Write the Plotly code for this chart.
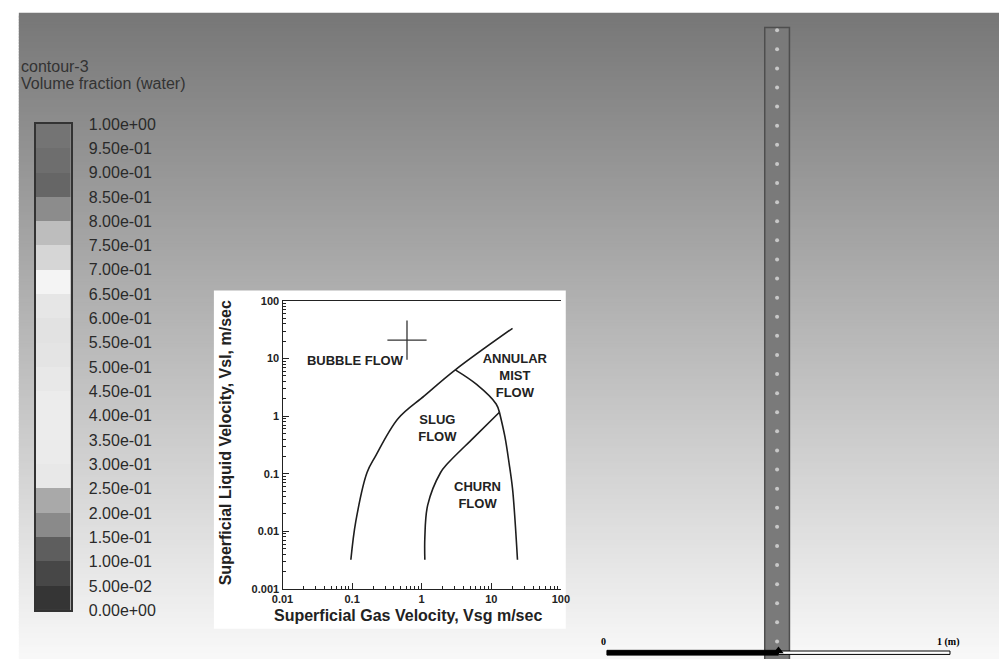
import plotly.graph_objects as go

W, H = 1008, 668

# ---------------- data ----------------
# contour legend (Volume fraction of water), bands from top (1.00) to bottom (0.00)
legend_title = ["contour-3", "Volume fraction (water)"]
legend_ticks = [1.00, 0.95, 0.90, 0.85, 0.80, 0.75, 0.70, 0.65, 0.60, 0.55, 0.50,
                0.45, 0.40, 0.35, 0.30, 0.25, 0.20, 0.15, 0.10, 0.05, 0.00]
legend_ticktext = ["1.00e+00", "9.50e-01", "9.00e-01", "8.50e-01", "8.00e-01",
                   "7.50e-01", "7.00e-01", "6.50e-01", "6.00e-01", "5.50e-01",
                   "5.00e-01", "4.50e-01", "4.00e-01", "3.50e-01", "3.00e-01",
                   "2.50e-01", "2.00e-01", "1.50e-01", "1.00e-01", "5.00e-02",
                   "0.00e+00"]
band_centers = [0.975, 0.925, 0.875, 0.825, 0.775, 0.725, 0.675, 0.625, 0.575, 0.525,
                0.475, 0.425, 0.375, 0.325, 0.275, 0.225, 0.175, 0.125, 0.075, 0.025]
band_gray = [116, 110, 102, 140, 189, 214, 244, 230, 226, 228,
             232, 236, 236, 235, 232, 169, 138, 94, 71, 53]

# flow regime map (inset), superficial velocities in m/s
bubble_slug_vsg = [0.096, 0.113, 0.164, 0.216, 0.459, 1.09, 3.04, 20.2]
bubble_slug_vsl = [0.0032, 0.0148, 0.105, 0.2, 0.91, 2.25, 6.37, 33.6]
slug_annular_vsg = [3.04, 6.15, 11.75, 13.1]
slug_annular_vsl = [6.37, 3.56, 1.63, 1.17]
annular_churn_vsg = [13.1, 15.7, 18.1, 20.2, 22.0, 23.8]
annular_churn_vsl = [1.17, 0.44, 0.147, 0.055, 0.0148, 0.0032]
slug_churn_vsg = [13.1, 5.5, 2.32, 1.87, 1.22, 1.11, 1.11]
slug_churn_vsl = [1.17, 0.416, 0.147, 0.105, 0.0285, 0.0078, 0.0032]
operating_point = (0.615, 21.0)
region_names = ["BUBBLE FLOW", "ANNULAR<br>MIST<br>FLOW", "SLUG<br>FLOW", "CHURN<br>FLOW"]
region_vsg = [0.110, 21.8, 1.68, 6.35]
region_vsl = [8.8, 4.9, 0.6, 0.041]
x_tickvals = [0.01, 0.1, 1, 10, 100]
x_ticktext = ["0.01", "0.1", "1", "10", "100"]
y_tickvals = [0.001, 0.01, 0.1, 1, 10, 100]
y_ticktext = ["0.001", "0.01", "0.1", "1", "10", "100"]

# pipe geometry (metres)
pipe_x = [0.46, 0.532]
pipe_y = [-0.02, 1.84]
pipe_dot_x = 0.496
pipe_dot_y = [1.832, 1.776, 1.720, 1.664, 1.608, 1.552, 1.496, 1.440, 1.384, 1.328,
              1.272, 1.216, 1.160, 1.104, 1.048, 0.992, 0.936, 0.880, 0.824, 0.768,
              0.712, 0.656, 0.600, 0.544, 0.488, 0.432, 0.376, 0.320, 0.264, 0.208,
              0.152, 0.096, 0.040]
scale_bar = [0.0, 0.5, 1.0]
scale_bar_h = 0.014
scale_labels = ["0", "1 (m)"]


def px(x):
    return x / W


def py(y):
    return 1 - y / H


fig = go.Figure()

# ---------------- background (gradient + inset paper) ----------------
shapes = []
top, bottom = 5, H
step = 3
c_top, c_bot = 119, 249
y = top
while y < bottom:
    t = (y - top) / (bottom - top)
    c = int(round(c_top + (c_bot - c_top) * t))
    shapes.append(dict(type="rect", xref="paper", yref="paper", layer="below",
                       x0=px(8), x1=1, y0=py(min(y + step + 2, bottom)), y1=py(y),
                       line=dict(width=0), fillcolor=f"rgb({c},{c},{c})"))
    y += step
shapes.append(dict(type="rect", xref="paper", yref="paper", layer="below",
                   x0=px(207), x1=px(566), y0=py(637), y1=py(290),
                   line=dict(width=0), fillcolor="white"))

# ---------------- contour legend ----------------
fig.add_trace(go.Heatmap(
    z=[[g] for g in band_gray[::-1]], y=band_centers[::-1], x=[0],
    colorscale=[[0, "rgb(0,0,0)"], [1, "rgb(255,255,255)"]], zmin=0, zmax=255,
    showscale=False, xaxis="x4", yaxis="y4", hoverinfo="skip"))

# ---------------- flow regime map ----------------
line_style = dict(color="#1e1e1e", width=1.6, shape="spline", smoothing=1.0)
for xs, ys in [(bubble_slug_vsg, bubble_slug_vsl), (slug_annular_vsg, slug_annular_vsl),
               (annular_churn_vsg, annular_churn_vsl), (slug_churn_vsg, slug_churn_vsl)]:
    fig.add_trace(go.Scatter(x=xs, y=ys, mode="lines", line=line_style,
                             xaxis="x", yaxis="y", showlegend=False, hoverinfo="skip"))
fig.add_trace(go.Scatter(x=[operating_point[0]], y=[operating_point[1]], mode="markers",
                         marker=dict(symbol="cross-thin", size=28,
                                     line=dict(color="#333", width=1.3)),
                         xaxis="x", yaxis="y", showlegend=False, hoverinfo="skip"))
fig.add_trace(go.Scatter(x=region_vsg, y=region_vsl, mode="text", text=region_names,
                         textfont=dict(family="Liberation Sans", size=13, color="#222",
                                       weight="bold"),
                         xaxis="x", yaxis="y", showlegend=False, hoverinfo="skip"))

# ---------------- pipe and scale bar ----------------
fig.add_trace(go.Scatter(
    x=[pipe_x[0], pipe_x[1], pipe_x[1], pipe_x[0], pipe_x[0]],
    y=[pipe_y[0], pipe_y[0], pipe_y[1], pipe_y[1], pipe_y[0]],
    mode="lines", fill="toself", fillcolor="#7a7a7a",
    line=dict(color="#4e4e4e", width=1.5),
    xaxis="x2", yaxis="y2", showlegend=False, hoverinfo="skip"))
fig.add_trace(go.Scatter(
    x=[pipe_dot_x] * len(pipe_dot_y), y=pipe_dot_y, mode="markers",
    marker=dict(color="#c8c8c8", size=4, line=dict(width=0)),
    xaxis="x2", yaxis="y2", showlegend=False, hoverinfo="skip"))
fig.add_trace(go.Scatter(
    x=[scale_bar[0], scale_bar[1], scale_bar[1], scale_bar[0], scale_bar[0]],
    y=[0, 0, scale_bar_h, scale_bar_h, 0], mode="lines", fill="toself",
    fillcolor="black", line=dict(color="black", width=1),
    xaxis="x2", yaxis="y2", showlegend=False, hoverinfo="skip"))
fig.add_trace(go.Scatter(
    x=[scale_bar[1], scale_bar[2], scale_bar[2], scale_bar[1], scale_bar[1]],
    y=[0.002, 0.002, scale_bar_h - 0.002, scale_bar_h - 0.002, 0.002], mode="lines",
    fill="toself", fillcolor="white", line=dict(color="black", width=1),
    xaxis="x2", yaxis="y2", showlegend=False, hoverinfo="skip"))
fig.add_trace(go.Scatter(
    x=[scale_bar[1]], y=[0.012], mode="markers",
    marker=dict(symbol="triangle-up", size=9, color="black"),
    xaxis="x2", yaxis="y2", showlegend=False, hoverinfo="skip"))
fig.add_trace(go.Scatter(
    x=[scale_bar[0] - 0.01, scale_bar[2] - 0.005], y=[0.036, 0.036], mode="text",
    text=scale_labels, textposition="middle center",
    textfont=dict(family="Liberation Serif", size=10, color="black", weight="bold"),
    xaxis="x2", yaxis="y2", showlegend=False, hoverinfo="skip"))

# ---------------- annotations ----------------
annotations = [
    dict(text=legend_title[0], xref="paper", yref="paper", x=px(8), y=py(60),
         xanchor="left", yanchor="middle", showarrow=False,
         font=dict(family="Liberation Sans", size=16, color="#333")),
    dict(text=legend_title[1], xref="paper", yref="paper", x=px(8), y=py(77),
         xanchor="left", yanchor="middle", showarrow=False,
         font=dict(family="Liberation Sans", size=16, color="#333")),
    dict(text="<b>Superficial Gas Velocity, Vsg m/sec</b>", xref="paper", yref="paper",
         x=px(405), y=py(623), xanchor="center", yanchor="middle", showarrow=False,
         font=dict(family="Liberation Sans", size=16, color="#222")),
    dict(text="<b>Superficial Liquid Velocity, Vsl, m/sec</b>", xref="paper", yref="paper",
         x=px(219), y=py(446), xanchor="center", yanchor="middle", showarrow=False,
         textangle=-90, font=dict(family="Liberation Sans", size=16, color="#222")),
]

tickfont = dict(family="Liberation Sans", size=11, color="#222", weight="bold")
fig.update_layout(
    width=W, height=H, margin=dict(l=0, r=0, t=0, b=0),
    paper_bgcolor="white", plot_bgcolor="rgba(0,0,0,0)",
    shapes=shapes, annotations=annotations, showlegend=False,
    xaxis=dict(type="log", range=[-2, 2], domain=[px(277), px(561)], anchor="y",
               showline=True, linecolor="#222", linewidth=1.3, mirror=True,
               ticks="inside", ticklen=6, tickcolor="#222", tickwidth=1,
               tickvals=x_tickvals, ticktext=x_ticktext, tickfont=tickfont,
               minor=dict(ticks="inside", ticklen=3, tickcolor="#222", dtick="D1"),
               showgrid=False, zeroline=False, fixedrange=True),
    yaxis=dict(type="log", range=[-3, 2], domain=[py(596), py(300.7)], anchor="x",
               showline=True, linecolor="#222", linewidth=1.3,
               ticks="inside", ticklen=6, tickcolor="#222", tickwidth=1,
               tickvals=y_tickvals, ticktext=y_ticktext, tickfont=tickfont,
               minor=dict(ticks="inside", ticklen=3, tickcolor="#222", dtick="D1"),
               showgrid=False, zeroline=False, fixedrange=True),
    xaxis2=dict(range=[-608 / 350, 400 / 350], domain=[0, 1], anchor="y2",
                visible=False, fixedrange=True),
    yaxis2=dict(range=[-4 / 350, 664 / 350], domain=[0, 1], anchor="x2",
                visible=False, fixedrange=True),
    xaxis4=dict(range=[-0.5, 0.5], domain=[px(25), px(61)], anchor="y4",
                showline=True, linecolor="#333", linewidth=1.5, mirror=True,
                showticklabels=False, ticks="", showgrid=False, zeroline=False,
                fixedrange=True),
    yaxis4=dict(range=[0, 1], domain=[py(618), py(119)], anchor="x4", side="right",
                showline=True, linecolor="#333", linewidth=1.5, mirror=True,
                tickvals=legend_ticks, ticktext=legend_ticktext, ticks="",
                ticklabelstandoff=13, showgrid=False, zeroline=False,
                tickfont=dict(family="Liberation Sans", size=16, color="#2a2a2a"),
                fixedrange=True),
)

fig.write_html("out.html", config={"displayModeBar": False},
               post_script="document.body.style.margin='0';document.body.style.overflow='hidden';")
